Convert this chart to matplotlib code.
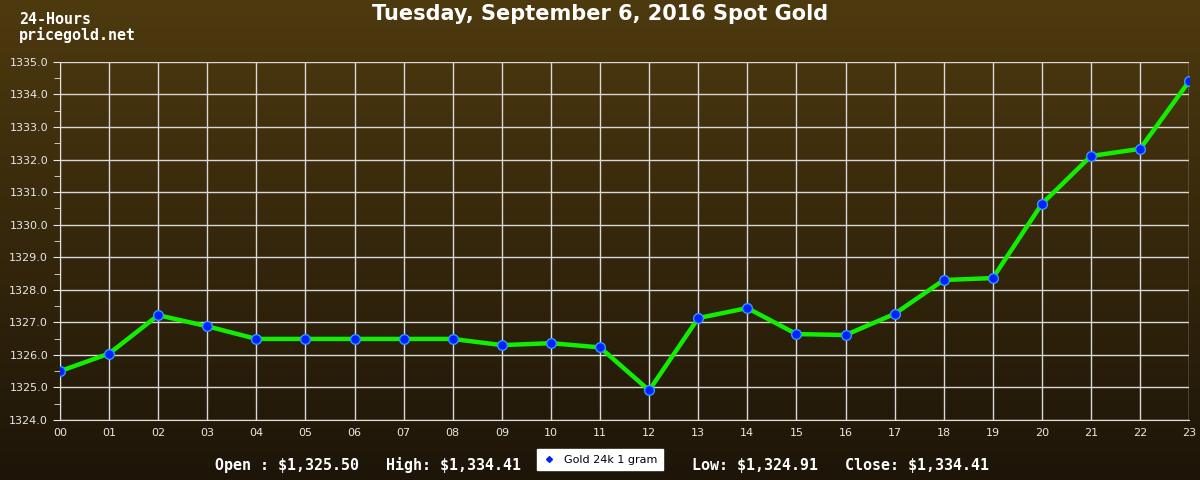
import numpy as np
import matplotlib.pyplot as plt
from matplotlib.colors import LinearSegmentedColormap
from matplotlib.lines import Line2D

# dati
hours = ['00', '01', '02', '03', '04', '05', '06', '07', '08', '09', '10', '11',
         '12', '13', '14', '15', '16', '17', '18', '19', '20', '21', '22', '23']
price = [1325.50, 1326.04, 1327.22, 1326.88, 1326.49, 1326.49, 1326.49, 1326.49,
         1326.49, 1326.30, 1326.36, 1326.23, 1324.91, 1327.13, 1327.44, 1326.64,
         1326.61, 1327.26, 1328.30, 1328.36, 1330.64, 1332.11, 1332.33, 1334.41]
title = 'Tuesday, September 6, 2016 Spot Gold'
stats_left = r'Open : \$1,325.50   High: \$1,334.41'
stats_right = r'Low: \$1,324.91   Close: \$1,334.41'
series_name = 'Gold 24k 1 gram'

fig = plt.figure(figsize=(12, 4.8), dpi=100)

# sfondo sfumato
bg = fig.add_axes([0, 0, 1, 1], zorder=-10)
cmap = LinearSegmentedColormap.from_list('bg', ['#4e3a0f', '#1d1508'])
bg.imshow(np.linspace(0, 1, 256).reshape(-1, 1), aspect='auto', cmap=cmap, extent=[0, 1, 0, 1])
bg.axis('off')

ax = fig.add_axes([0.05, 0.125, 0.941, 0.746])
ax.set_facecolor('none')
x = np.arange(len(hours))
ax.plot(x, price, color='#11ee00', lw=3.2, zorder=3)
ax.plot(x, price, ls='none', marker='o', ms=7, mfc='#0022ff', mec='#3399ff', mew=1, zorder=4)

ax.set_xlim(0, 23)
ax.set_ylim(1324, 1335)
ax.set_xticks(x)
ax.set_xticklabels(hours)
ax.set_yticks(np.arange(1324, 1336, 1))
ax.set_yticklabels(['%.1f' % v for v in np.arange(1324, 1336, 1)])
ax.set_yticks(np.arange(1324.5, 1335, 1), minor=True)
ax.grid(True, color='#d8d8d8', lw=1)
for s in ax.spines.values():
    s.set_visible(False)
ax.spines['left'].set_visible(True)
ax.spines['left'].set_color('#e0e0e0')
ax.spines['bottom'].set_visible(True)
ax.spines['bottom'].set_color('#e0e0e0')
ax.tick_params(colors='#e8e8e8', labelsize=8, length=5)
ax.tick_params(axis='x', length=0, pad=6)
ax.tick_params(which='minor', length=4, color='#e0e0e0')

mono = dict(color='white', fontsize=10.8, family='DejaVu Sans Mono', fontweight='bold')
fig.text(0.5, 0.97, title, ha='center', va='center', color='white', fontsize=15, fontweight='bold')
fig.text(0.016, 0.96, '24-Hours', ha='left', va='center', **mono)
fig.text(0.016, 0.928, 'pricegold.net', ha='left', va='center', **mono)
fig.text(0.434, 0.031, stats_left, ha='right', va='center', **mono)
fig.text(0.577, 0.031, stats_right, ha='left', va='center', **mono)

h = Line2D([], [], ls='none', marker='D', ms=3, color='#0022ff')
fig.legend([h], [series_name], loc='center', bbox_to_anchor=(0.5, 0.042), fontsize=8,
           frameon=True, fancybox=False, facecolor='white', edgecolor='white', framealpha=1,
           handlelength=1.2, borderpad=0.5)

fig.savefig('out.png', dpi=100)
